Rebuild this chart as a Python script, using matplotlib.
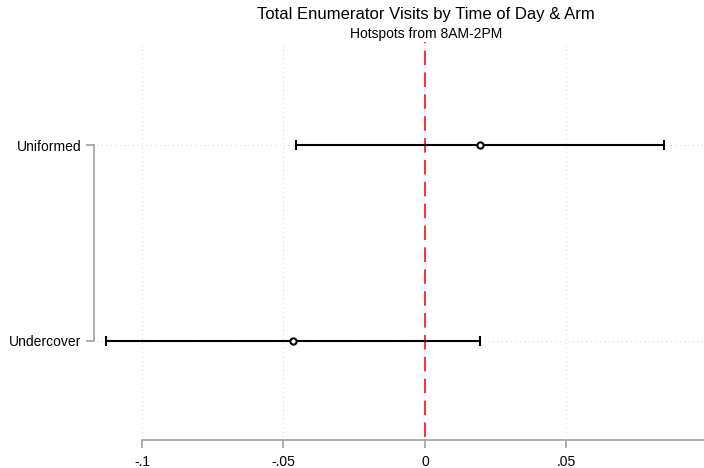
import matplotlib
matplotlib.use("Agg")
import matplotlib.pyplot as plt

# coefficients and 95% CI
labels = ["Uniformed", "Undercover"]
coef = [0.0194, -0.0466]
ci_low = [-0.0456, -0.1127]
ci_high = [0.0845, 0.0195]
xticks = [-0.1, -0.05, 0, 0.05, 0.1]
xticklabels = ["-.1", "-.05", "0", ".05", ".1"]

plt.rcParams['font.family'] = ['Liberation Sans', 'DejaVu Sans']

fig = plt.figure(figsize=(7.04, 4.68), dpi=100)
W, H = 704, 468
ax = fig.add_axes([97 / W, 31 / H, (708 - 97) / W, (426 - 31) / H])

ypos = [1, 2]
for y, c, lo, hi in zip(ypos, coef, ci_low, ci_high):
    ax.errorbar(c, y, xerr=[[c - lo], [hi - c]], fmt='none', ecolor='black',
                elinewidth=1.5, capsize=3.5, capthick=1.5, zorder=3)
    ax.plot(c, y, 'o', mfc='white', mec='black', mew=1.5, ms=4.5, zorder=4)

ax.axvline(0, color='#ee3b3b', lw=1.5, ls=(0, (7, 3.5)), zorder=2)

ax.set_xlim(-0.1159, 0.1)
ax.set_ylim(2.49, 0.474)
ax.set_xticks(xticks)
ax.set_xticklabels(xticklabels)
ax.set_yticks(ypos)
ax.set_yticklabels(labels)

# dotted grid
for x in xticks:
    if x != 0:
        ax.axvline(x, color='#d8d8d8', lw=0.8, ls=(0, (1, 3)), zorder=1)
for y in ypos:
    ax.axhline(y, color='#d8d8d8', lw=0.8, ls=(0, (1, 3)), zorder=1)

for s in ['top', 'right']:
    ax.spines[s].set_visible(False)
ax.spines['left'].set_position(('outward', 2))
ax.spines['left'].set_bounds(1, 2)
ax.spines['bottom'].set_position(('outward', 2))
ax.spines['bottom'].set_bounds(-0.1, 0.1)
for s in ['left', 'bottom']:
    ax.spines[s].set_color('#a0a0a0')
    ax.spines[s].set_linewidth(1.2)
ax.tick_params(axis='both', colors='#a0a0a0', width=1.2, length=6,
               labelcolor='black', labelsize=10)
ax.tick_params(axis='x', pad=5)
ax.tick_params(axis='y', pad=3)

fig.text(426 / W, 1 - 15 / H, "Total Enumerator Visits by Time of Day & Arm",
         ha='center', va='center', fontsize=12)
fig.text(426 / W, 1 - 34 / H, "Hotspots from 8AM-2PM",
         ha='center', va='center', fontsize=10)

fig.savefig("out.png", dpi=100)
